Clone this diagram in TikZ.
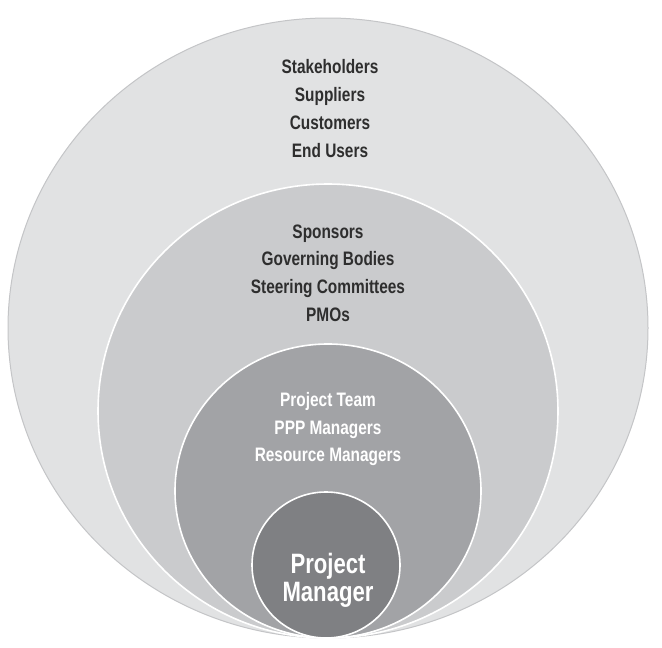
\documentclass[tikz,border=0pt]{standalone}
\usepackage{fontspec}
\setmainfont[FakeStretch=0.79]{Liberation Sans}
\definecolor{ringA}{HTML}{E1E2E3}
\definecolor{ringB}{HTML}{CACBCD}
\definecolor{ringC}{HTML}{A2A3A6}
\definecolor{ringD}{HTML}{7F8083}
\definecolor{edgeA}{HTML}{C4C5C7}
\definecolor{txtdark}{HTML}{2E2E2E}
\begin{document}
\begin{tikzpicture}[x=1pt,y=-1pt,
  ring/.style={draw=white,line width=1.6pt},
  darktxt/.style={font=\bfseries\fontsize{19.5}{22}\selectfont,text=txtdark,inner sep=0pt,anchor=base},
  lighttxt/.style={font=\bfseries\fontsize{19.5}{22}\selectfont,text=white,inner sep=0pt,anchor=base},
  pmtxt/.style={font=\bfseries\fontsize{28}{30}\selectfont,text=white,inner sep=0pt,anchor=base}]
\useasboundingbox[fill=white] (0,0) rectangle (662,648);
\fill[ringA,draw=edgeA,line width=1pt] (328,328) ellipse [x radius=320,y radius=310];
\filldraw[ring,fill=ringB] (328,411) ellipse [x radius=230,y radius=227];
\filldraw[ring,fill=ringC] (328,491) ellipse [x radius=153,y radius=147];
\filldraw[ring,fill=ringD] (326,565) ellipse [x radius=74,y radius=73];
\node[darktxt] (o1) at (330,73) {Stakeholders};
\node[darktxt] (o2) at (330,101) {Suppliers};
\node[darktxt] (o3) at (330,129) {Customers};
\node[darktxt] (o4) at (330,157) {End Users};
\node[darktxt] (m1) at (328,238) {Sponsors};
\node[darktxt] (m2) at (328,265) {Governing Bodies};
\node[darktxt] (m3) at (328,293) {Steering Committees};
\node[darktxt] (m4) at (328,321) {PMOs};
\node[lighttxt] (i1) at (328,406) {Project Team};
\node[lighttxt] (i2) at (328,434) {PPP Managers};
\node[lighttxt] (i3) at (328,461) {Resource Managers};
\node[pmtxt] (p1) at (328,573) {Project};
\node[pmtxt] (p2) at (328,601) {Manager};
\end{tikzpicture}
\end{document}
